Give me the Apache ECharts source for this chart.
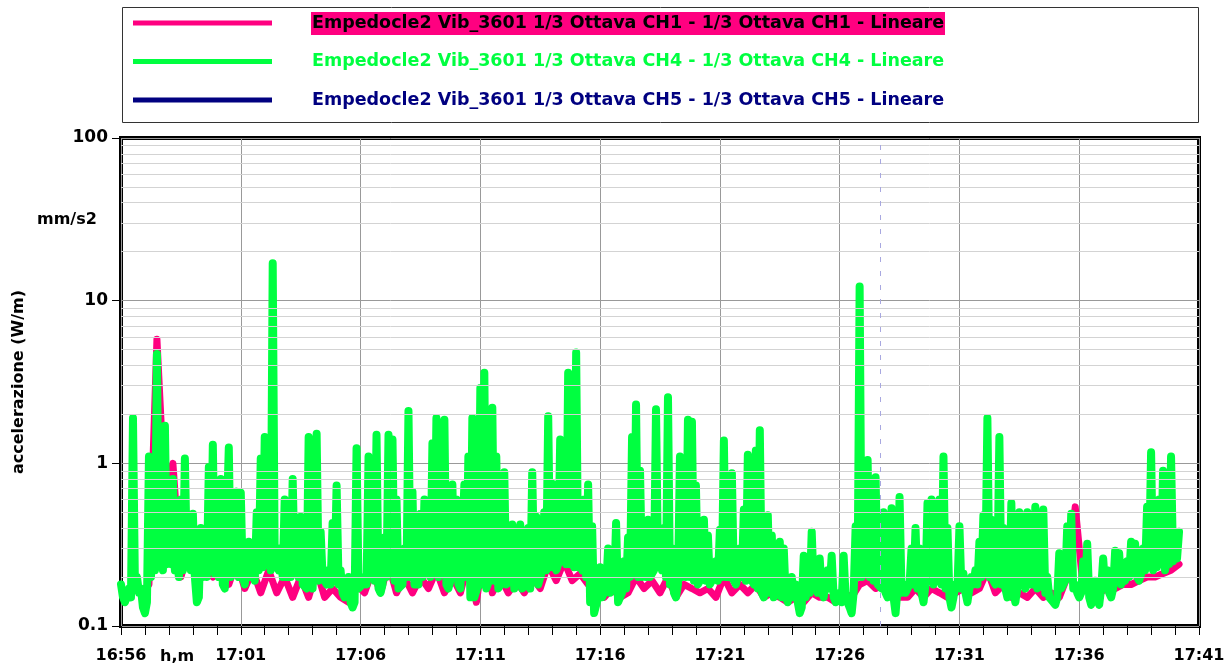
<!DOCTYPE html>
<html>
<head>
<meta charset="utf-8">
<title>Empedocle2 Vib_3601 - 1/3 Ottava</title>
<script src="https://cdn.jsdelivr.net/npm/echarts@6/dist/echarts.min.js"></script>
<style>
  html, body { margin: 0; padding: 0; background: #fff; }
  #chart { width: 1229px; height: 671px; }
</style>
</head>
<body>
<div id="chart"></div>
<script>
// ==================== 数据 ====================

// inizio registrazione 16:56, asse in minuti
const startHour = 16;
const startMin = 56;

const seriesNames = [
  'Empedocle2 Vib_3601 1/3 Ottava CH1 - 1/3 Ottava CH1 - Lineare',
  'Empedocle2 Vib_3601 1/3 Ottava CH4 - 1/3 Ottava CH4 - Lineare',
  'Empedocle2 Vib_3601 1/3 Ottava CH5 - 1/3 Ottava CH5 - Lineare'
];
const seriesColors = ['#ff0080', '#00ff40', '#000080'];

// CH4: picchi, un campione ogni 10 s a partire da 16:56:00
const ch4StepSec = 10;
const ch4Values = [
  0.18, 0.14, 0.17, 1.9, 0.2, 0.17, 0.12, 1.1, 0.4, 4.7, 0.3, 1.7,
  0.5, 0.8, 0.25, 0.6, 1.07, 0.35, 0.49, 0.14, 0.4, 0.3, 0.95, 1.3,
  0.5, 0.8, 0.17, 1.25, 0.4, 0.67, 0.66, 0.18, 0.33, 0.25, 0.5, 1.07,
  1.45, 0.3, 17, 0.25, 0.3, 0.6, 0.2, 0.8, 0.4, 0.47, 0.18, 1.45,
  0.17, 1.52, 0.38, 0.2, 0.22, 0.43, 0.73, 0.22, 0.15, 0.2, 0.13, 1.24,
  0.17, 0.2, 1.1, 0.3, 1.5, 0.16, 0.35, 1.5, 1.4, 0.6, 0.17, 0.3,
  2.1, 0.67, 0.18, 0.49, 0.6, 0.3, 1.33, 1.9, 0.22, 1.85, 0.17, 0.74,
  0.6, 0.17, 0.74, 1.1, 1.9, 0.15, 2.9, 3.6, 0.17, 2.2, 1.1, 0.17,
  0.88, 0.18, 0.42, 0.2, 0.42, 0.17, 0.4, 0.88, 0.47, 0.18, 0.5, 1.95,
  0.75, 0.22, 1.4, 1.0, 3.6, 0.6, 4.8, 0.24, 0.6, 0.74, 0.41, 0.12,
  0.23, 0.15, 0.3, 0.2, 0.43, 0.14, 0.25, 0.35, 1.45, 2.3, 0.9, 0.3,
  0.45, 0.2, 2.15, 0.26, 0.4, 2.55, 0.3, 0.15, 1.1, 0.3, 1.85, 1.8,
  0.73, 0.18, 0.45, 0.36, 0.18, 0.25, 0.39, 1.38, 0.22, 0.87, 0.18, 0.3,
  0.52, 1.13, 0.19, 1.2, 1.6, 0.15, 0.48, 0.36, 0.15, 0.33, 0.3, 0.14,
  0.2, 0.18, 0.12, 0.27, 0.2, 0.38, 0.22, 0.26, 0.15, 0.22, 0.27, 0.14,
  0.16, 0.27, 0.14, 0.12, 0.41, 12.2, 0.45, 1.05, 0.7, 0.82, 0.18, 0.5,
  0.15, 0.53, 0.12, 0.62, 0.18, 0.16, 0.3, 0.4, 0.3, 0.14, 0.57, 0.6,
  0.25, 0.6, 1.1, 0.4, 0.13, 0.18, 0.41, 0.21, 0.14, 0.2, 0.22, 0.33,
  0.48, 1.9, 0.45, 0.18, 1.45, 0.4, 0.15, 0.57, 0.14, 0.5, 0.2, 0.5,
  0.18, 0.54, 0.17, 0.52, 0.2, 0.15, 0.135, 0.28, 0.18, 0.41, 0.49, 0.18,
  0.15, 0.25, 0.32, 0.135, 0.19, 0.135, 0.26, 0.22, 0.15, 0.29, 0.28, 0.2,
  0.25, 0.33, 0.32, 0.19, 0.3, 0.54, 1.17, 0.25, 0.6, 0.9, 0.27, 1.1,
  0.32, 0.38
];

// CH4: fondo (inviluppo inferiore), a meta' fra due campioni (16:56:05, 16:56:15, ...)
const ch4Floor = [
  0.15, 0.14, 0.15, 0.17, 0.16, 0.13, 0.14, 0.2, 0.22, 0.25, 0.22, 0.24,
  0.24, 0.22, 0.2, 0.22, 0.25, 0.22, 0.2, 0.15, 0.2, 0.2, 0.22, 0.21,
  0.2, 0.18, 0.17, 0.2, 0.22, 0.2, 0.2, 0.18, 0.2, 0.19, 0.22, 0.23,
  0.24, 0.22, 0.25, 0.22, 0.2, 0.2, 0.2, 0.22, 0.2, 0.18, 0.17, 0.19,
  0.17, 0.19, 0.2, 0.18, 0.18, 0.2, 0.18, 0.16, 0.15, 0.14, 0.14, 0.17,
  0.18, 0.18, 0.2, 0.19, 0.17, 0.18, 0.2, 0.21, 0.19, 0.17, 0.18, 0.2,
  0.2, 0.18, 0.18, 0.2, 0.21, 0.2, 0.22, 0.2, 0.21, 0.18, 0.19, 0.2,
  0.18, 0.17, 0.2, 0.15, 0.15, 0.18, 0.18, 0.17, 0.2, 0.19, 0.17, 0.19,
  0.18, 0.19, 0.17, 0.18, 0.17, 0.18, 0.17, 0.2, 0.18, 0.22, 0.22, 0.23,
  0.24, 0.24, 0.25, 0.24, 0.24, 0.23, 0.23, 0.22, 0.2, 0.14, 0.12, 0.15,
  0.15, 0.17, 0.16, 0.17, 0.14, 0.16, 0.17, 0.2, 0.22, 0.2, 0.2, 0.2,
  0.2, 0.22, 0.24, 0.22, 0.2, 0.18, 0.16, 0.18, 0.2, 0.2, 0.2, 0.19,
  0.18, 0.2, 0.19, 0.18, 0.2, 0.19, 0.2, 0.2, 0.2, 0.19, 0.2, 0.2,
  0.19, 0.2, 0.18, 0.17, 0.16, 0.17, 0.16, 0.15, 0.16, 0.15, 0.15, 0.14,
  0.15, 0.14, 0.13, 0.15, 0.16, 0.17, 0.16, 0.16, 0.15, 0.17, 0.15, 0.14,
  0.14, 0.15, 0.13, 0.16, 0.2, 0.2, 0.21, 0.2, 0.19, 0.18, 0.17, 0.16,
  0.16, 0.15, 0.17, 0.16, 0.16, 0.18, 0.18, 0.17, 0.16, 0.18, 0.19, 0.18,
  0.19, 0.18, 0.17, 0.15, 0.15, 0.17, 0.17, 0.16, 0.17, 0.18, 0.18, 0.2,
  0.22, 0.2, 0.19, 0.2, 0.18, 0.17, 0.17, 0.16, 0.17, 0.18, 0.17, 0.18,
  0.18, 0.17, 0.18, 0.16, 0.15, 0.14, 0.15, 0.17, 0.19, 0.2, 0.17, 0.16,
  0.16, 0.17, 0.15, 0.15, 0.15, 0.17, 0.17, 0.16, 0.17, 0.19, 0.18, 0.19,
  0.2, 0.21, 0.2, 0.21, 0.22, 0.24, 0.22, 0.23, 0.24, 0.22, 0.24, 0.25,
  0.26
];

// CH1: un campione ogni 20 s a partire da 16:56:10
const ch1StartSec = 10;
const ch1StepSec = 20;
const ch1Values = [
  0.15, 0.17, 0.16, 0.18, 5.8, 0.6, 1.0, 0.2, 0.3, 0.18,
  0.25, 0.2, 0.28, 0.18, 0.25, 0.17, 0.22, 0.16, 0.22, 0.16,
  0.2, 0.15, 0.2, 0.15, 0.22, 0.15, 0.17, 0.15, 0.14, 0.18,
  0.16, 0.22, 0.16, 0.24, 0.16, 0.2, 0.16, 0.2, 0.17, 0.22,
  0.16, 0.2, 0.16, 0.25, 0.14, 0.3, 0.16, 0.2, 0.16, 0.19,
  0.16, 0.2, 0.17, 0.24, 0.19, 0.25, 0.19, 0.21, 0.18, 0.17,
  0.15, 0.17, 0.15, 0.16, 0.2, 0.17, 0.19, 0.16, 0.2, 0.15,
  0.18, 0.17, 0.16, 0.17, 0.15, 0.2, 0.16, 0.18, 0.16, 0.18,
  0.15, 0.16, 0.15, 0.14, 0.15, 0.14, 0.16, 0.15, 0.15, 0.14,
  0.16, 0.15, 0.18, 0.19, 0.17, 0.18, 0.16, 0.15, 0.15, 0.17,
  0.15, 0.17, 0.16, 0.15, 0.16, 0.17, 0.16, 0.17, 0.22, 0.16,
  0.18, 0.15, 0.16, 0.15, 0.17, 0.15, 0.16, 0.15, 0.2, 0.54,
  0.17, 0.16, 0.16, 0.17, 0.17, 0.18, 0.18, 0.19, 0.2, 0.2,
  0.21, 0.22, 0.24
];

// CH5: nessun dato visibile
const ch5Values = [];

// griglia secondaria logaritmica (2..9 per decade)
const minorGridValues = [
  0.2, 0.3, 0.4, 0.5, 0.6, 0.7, 0.8, 0.9,
  2, 3, 4, 5, 6, 7, 8, 9,
  20, 30, 40, 50, 60, 70, 80, 90
];

// linea verticale tratteggiata (marker) in minuti
const markerMinutes = [31.7];

// ==================== 格式化函数 ====================

function pad2(n) {
  return String(n).padStart(2, '0');
}

function formatClock(minutes) {
  const total = startHour * 60 + startMin + Math.round(minutes);
  return pad2(Math.floor(total / 60) % 24) + ':' + pad2(total % 60);
}

function toPairs(values, startSec, stepSec) {
  return values.map((v, i) => [(startSec + i * stepSec) / 60, v]);
}

// picchi e fondo alternati: campione, fondo, campione, ...
function interleave(peaks, floor, stepSec) {
  const out = [];
  peaks.forEach((v, i) => {
    out.push([(i * stepSec) / 60, v]);
    if (i < floor.length) out.push([(i * stepSec + stepSec / 2) / 60, floor[i]]);
  });
  return out;
}

// ==================== 图表 ====================

const FONT = 'DejaVu Sans';
const chart = echarts.init(document.getElementById('chart'));

// legenda disegnata a mano (riquadro con linee lunghe)
const legendGraphics = [
  {
    type: 'rect',
    shape: { x: 122.5, y: 7.5, width: 1076, height: 115 },
    style: { fill: '#fff', stroke: '#333', lineWidth: 1 },
    z: 10
  },
  {
    type: 'rect',
    shape: { x: 311, y: 12, width: 634, height: 23 },
    style: { fill: seriesColors[0] },
    z: 11
  }
];
seriesNames.forEach((name, i) => {
  const y = 23 + i * 38.5;
  legendGraphics.push({
    type: 'line',
    shape: { x1: 133, y1: y, x2: 272, y2: y },
    style: { stroke: seriesColors[i], lineWidth: 5 },
    z: 11
  });
  legendGraphics.push({
    type: 'text',
    x: 312,
    y: y,
    style: {
      text: name,
      fill: i === 0 ? '#000' : seriesColors[i],
      font: 'bold 17.5px "' + FONT + '"',
      textVerticalAlign: 'middle'
    },
    z: 12
  });
});

const option = {
  animation: false,
  backgroundColor: '#fff',
  grid: {
    left: 121,
    right: 30,
    top: 138,
    bottom: 45,
    show: true,
    borderColor: '#000',
    borderWidth: 4,
    backgroundColor: 'transparent'
  },
  xAxis: {
    type: 'value',
    min: 0,
    max: 45,
    interval: 5,
    axisLine: { show: false },
    axisTick: { show: true, length: 9, lineStyle: { color: '#000', width: 1 } },
    minorTick: { show: true, splitNumber: 5, length: 9, lineStyle: { color: '#000', width: 1 } },
    splitLine: { show: true, lineStyle: { color: '#999', width: 1 } },
    axisLabel: {
      margin: 22,
      color: '#000',
      fontFamily: FONT,
      fontWeight: 'bold',
      fontSize: 16,
      formatter: v => formatClock(v)
    }
  },
  yAxis: {
    type: 'log',
    logBase: 10,
    min: 0.1,
    max: 100,
    name: 'accelerazione (W/m)',
    nameLocation: 'middle',
    nameGap: 94,
    nameRotate: 90,
    nameTextStyle: { color: '#000', fontFamily: FONT, fontWeight: 'bold', fontSize: 16 },
    axisLine: { show: false },
    axisTick: { show: true, length: 9, lineStyle: { color: '#000', width: 1 } },
    splitLine: { show: true, lineStyle: { color: '#999', width: 1 } },
    axisLabel: {
      margin: 13,
      color: '#000',
      fontFamily: FONT,
      fontWeight: 'bold',
      fontSize: 17,
      formatter: v => String(v)
    }
  },
  graphic: legendGraphics.concat([
    {
      type: 'text',
      x: 37,
      y: 220,
      style: { text: 'mm/s2', fill: '#000', font: 'bold 16px "' + FONT + '"', textVerticalAlign: 'middle' }
    },
    {
      type: 'text',
      x: 160,
      y: 657,
      style: { text: 'h,m', fill: '#000', font: 'bold 16px "' + FONT + '"', textVerticalAlign: 'middle' }
    }
  ]),
  series: [
    {
      // griglia secondaria e marker, sotto le curve
      name: 'grid',
      type: 'line',
      data: [],
      z: 1,
      silent: true,
      markLine: {
        silent: true,
        symbol: 'none',
        label: { show: false },
        animation: false,
        data: minorGridValues.map(v => ({ yAxis: v, lineStyle: { color: '#d3d3d3', width: 1, type: 'solid' } }))
          .concat(markerMinutes.map(m => ({ xAxis: m, lineStyle: { color: '#a8a8e0', width: 1, type: [5, 9] } })))
      }
    },
    {
      name: seriesNames[2],
      type: 'line',
      data: ch5Values,
      showSymbol: false,
      z: 2,
      lineStyle: { color: seriesColors[2], width: 7 }
    },
    {
      name: seriesNames[0],
      type: 'line',
      data: toPairs(ch1Values, ch1StartSec, ch1StepSec),
      showSymbol: false,
      z: 3,
      lineStyle: { color: seriesColors[0], width: 7, cap: 'round', join: 'round' }
    },
    {
      name: seriesNames[1],
      type: 'line',
      data: interleave(ch4Values, ch4Floor, ch4StepSec),
      showSymbol: false,
      z: 4,
      lineStyle: { color: seriesColors[1], width: 8, cap: 'round', join: 'round' }
    }
  ]
};

chart.setOption(option);
</script>
</body>
</html>
